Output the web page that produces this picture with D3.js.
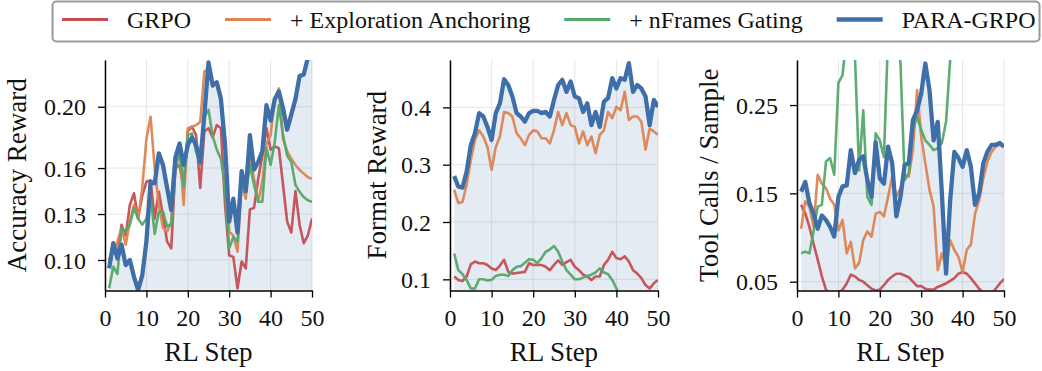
<!DOCTYPE html>
<html>
<head>
<meta charset="utf-8">
<script src="https://cdn.jsdelivr.net/npm/d3@7"></script>
<style>
  body { margin: 0; background: #fff; }
  svg { display: block; font-family: "Liberation Serif", "Times New Roman", serif; }
</style>
</head>
<body>
<svg id="chart"></svg>
<script>
// data (RL steps 1..50)
var steps = [1,2,3,4,5,6,7,8,9,10,11,12,13,14,15,16,17,18,19,20,21,22,23,24,25,
  26,27,28,29,30,31,32,33,34,35,36,37,38,39,40,41,42,43,44,45,46,47,48,49,50];

var seriesNames = ["GRPO", "+ Exploration Anchoring", "+ nFrames Gating", "PARA-GRPO"];
var seriesColors = ["#c44e52", "#dd8452", "#55a868", "#3f6fa9"];

var xTicks = [0, 10, 20, 30, 40, 50];

// Accuracy Reward
var accGRPO = [0.100,0.1076,0.103,0.123,0.116,0.136,0.1435,0.127,0.142,0.151,0.152,0.127,0.1445,0.129,0.112,0.1076,0.160,0.162,0.147,0.184,
  0.187,0.1815,0.147,0.184,0.186,0.180,0.188,0.186,0.136,0.103,0.102,0.0815,0.099,0.0946,0.133,0.134,0.153,0.168,0.186,0.172,
  0.174,0.173,0.149,0.125,0.118,0.145,0.123,0.111,0.116,0.127];
var accExplore = [0.100,0.105,0.112,0.121,0.110,0.125,0.136,0.127,0.147,0.179,0.1935,0.160,0.136,0.121,0.1185,0.125,0.164,0.173,0.136,0.186,
  0.187,0.188,0.190,0.223,0.225,0.213,0.216,0.2075,0.179,0.1185,0.116,0.1054,0.149,0.140,0.168,0.153,0.138,0.151,0.176,0.1815,
  0.205,0.212,0.179,0.171,0.166,0.162,0.1587,0.1565,0.154,0.153];
var accGating = [0.0815,0.0957,0.091,0.1207,0.1185,0.123,0.134,0.127,0.123,0.127,0.142,0.117,0.1315,0.1315,0.122,0.123,0.1576,0.172,0.148,0.1815,
  0.1826,0.1707,0.162,0.1935,0.198,0.181,0.172,0.166,0.147,0.1076,0.115,0.112,0.151,0.1445,0.162,0.149,0.138,0.138,0.173,0.162,
  0.177,0.201,0.1815,0.168,0.164,0.149,0.1445,0.141,0.139,0.138];
var accPara = [0.0946,0.111,0.101,0.110,0.0967,0.100,0.089,0.0804,0.090,0.112,0.151,0.150,0.1696,0.162,0.147,0.1326,0.167,0.176,0.162,0.175,
  0.180,0.175,0.164,0.1946,0.229,0.214,0.216,0.205,0.175,0.125,0.140,0.118,0.158,0.145,0.1815,0.159,0.164,0.171,0.201,0.191,
  0.205,0.210,0.199,0.185,0.195,0.205,0.220,0.221,0.232,0.245];
var accTicks = [0.10, 0.13, 0.16, 0.20];

// Format Reward
var fmtGRPO = [0.105,0.099,0.097,0.105,0.126,0.131,0.128,0.128,0.125,0.119,0.116,0.124,0.134,0.113,0.110,0.111,0.112,0.113,0.128,0.125,
  0.125,0.125,0.122,0.116,0.125,0.133,0.125,0.130,0.134,0.122,0.116,0.108,0.105,0.099,0.105,0.105,0.125,0.134,0.148,0.137,
  0.135,0.140,0.131,0.116,0.110,0.102,0.090,0.084,0.093,0.099];
var fmtExplore = [0.256,0.233,0.235,0.265,0.308,0.343,0.360,0.349,0.331,0.291,0.331,0.349,0.392,0.390,0.384,0.355,0.346,0.334,0.352,0.360,
  0.358,0.346,0.346,0.337,0.360,0.392,0.369,0.390,0.369,0.366,0.337,0.358,0.334,0.349,0.320,0.352,0.360,0.392,0.381,0.401,
  0.395,0.427,0.378,0.384,0.384,0.375,0.326,0.363,0.358,0.352];
var fmtGating = [0.145,0.116,0.109,0.099,0.084,0.084,0.100,0.100,0.098,0.099,0.106,0.108,0.108,0.106,0.116,0.122,0.123,0.129,0.135,0.134,
  0.128,0.137,0.148,0.152,0.158,0.148,0.131,0.116,0.108,0.100,0.100,0.103,0.106,0.108,0.112,0.119,0.112,0.109,0.099,0.084,
  0.072,0.066,0.062,0.060,0.058,0.057,0.056,0.055,0.055,0.054];
var fmtPara = [0.280,0.262,0.260,0.288,0.334,0.355,0.390,0.384,0.366,0.343,0.390,0.407,0.449,0.439,0.419,0.390,0.384,0.375,0.390,0.394,
  0.394,0.390,0.392,0.384,0.413,0.439,0.448,0.427,0.445,0.419,0.416,0.392,0.407,0.369,0.392,0.366,0.410,0.416,0.451,0.433,
  0.451,0.448,0.477,0.427,0.439,0.433,0.419,0.369,0.413,0.401];
var fmtTicks = [0.1, 0.2, 0.3, 0.4];

// Tool Calls / Sample
var toolGRPO = [0.137,0.127,0.112,0.093,0.075,0.056,0.041,0.036,0.034,0.036,0.041,0.048,0.058,0.056,0.052,0.050,0.046,0.042,0.040,0.041,
  0.046,0.052,0.056,0.059,0.059,0.057,0.055,0.050,0.045,0.045,0.042,0.041,0.041,0.044,0.046,0.048,0.051,0.054,0.059,0.061,
  0.059,0.054,0.048,0.042,0.037,0.035,0.036,0.042,0.048,0.053];
var toolExplore = [0.110,0.141,0.135,0.112,0.171,0.161,0.156,0.144,0.137,0.108,0.120,0.082,0.095,0.065,0.071,0.097,0.107,0.101,0.127,0.129,
  0.124,0.146,0.169,0.146,0.156,0.171,0.169,0.199,0.267,0.214,0.184,0.154,0.135,0.063,0.082,0.067,0.097,0.086,0.078,0.061,
  0.086,0.092,0.127,0.142,0.167,0.186,0.197,0.203,0.205,0.203];
var toolGating = [0.082,0.084,0.082,0.107,0.135,0.137,0.186,0.190,0.171,0.275,0.284,0.330,0.350,0.305,0.176,0.244,0.146,0.137,0.218,0.210,
  0.191,0.330,0.350,0.340,0.297,0.165,0.173,0.222,0.237,0.222,0.210,0.205,0.199,0.201,0.207,0.231,0.301,0.340,0.360,0.370,
  0.380,0.385,0.390,0.390,0.395,0.395,0.400,0.400,0.400,0.400];
var toolPara = [0.152,0.163,0.139,0.127,0.110,0.125,0.120,0.112,0.101,0.146,0.158,0.159,0.199,0.173,0.188,0.192,0.165,0.146,0.208,0.167,
  0.161,0.203,0.184,0.124,0.146,0.182,0.184,0.233,0.244,0.263,0.297,0.267,0.210,0.231,0.150,0.059,0.142,0.197,0.190,0.180,
  0.199,0.180,0.137,0.150,0.184,0.197,0.205,0.205,0.207,0.203];
var toolTicks = [0.05, 0.15, 0.25];

var width = 1042, height = 371;
var plotTop = 60, plotBottom = 290.5;

var panels = [
  {label: "Accuracy Reward", data: [accGRPO, accExplore, accGating, accPara], ticks: accTicks, fmt: ".2f",
   domain: [0.0801, 0.2305], left: 105, right: 312, labelX: 26},
  {label: "Format Reward", data: [fmtGRPO, fmtExplore, fmtGating, fmtPara], ticks: fmtTicks, fmt: ".1f",
   domain: [0.0805, 0.4826], left: 450, right: 658, labelX: 386},
  {label: "Tool Calls / Sample", data: [toolGRPO, toolExplore, toolGating, toolPara], ticks: toolTicks, fmt: ".2f",
   domain: [0.040, 0.301], left: 797, right: 1004, labelX: 718}
];

var svg = d3.select("#chart")
  .attr("width", width)
  .attr("height", height);

svg.append("rect").attr("width", width).attr("height", height).attr("fill", "#fff");

panels.forEach((p, pi) => {
  var x = d3.scaleLinear().domain([0, 50]).range([p.left, p.right]);
  var y = d3.scaleLinear().domain(p.domain).range([plotBottom, plotTop]);

  var g = svg.append("g");

  svg.append("clipPath").attr("id", "clip" + pi)
    .append("rect")
    .attr("x", p.left).attr("y", plotTop)
    .attr("width", p.right - p.left).attr("height", plotBottom - plotTop);

  // grid
  g.selectAll(".gx").data(xTicks).enter().append("line")
    .attr("x1", d => x(d)).attr("x2", d => x(d))
    .attr("y1", plotTop).attr("y2", plotBottom)
    .attr("stroke", "#e6e6e6").attr("stroke-width", 1);
  g.selectAll(".gy").data(p.ticks).enter().append("line")
    .attr("x1", p.left).attr("x2", p.right)
    .attr("y1", d => y(d)).attr("y2", d => y(d))
    .attr("stroke", "#e6e6e6").attr("stroke-width", 1);

  var plot = g.append("g").attr("clip-path", "url(#clip" + pi + ")");

  // shaded area under PARA-GRPO
  var area = d3.area()
    .x((d, i) => x(steps[i]))
    .y0(plotBottom)
    .y1(d => y(d));
  plot.append("path")
    .datum(p.data[3])
    .attr("d", area)
    .attr("fill", seriesColors[3])
    .attr("fill-opacity", 0.14);

  var line = d3.line()
    .x((d, i) => x(steps[i]))
    .y(d => y(d));

  p.data.forEach((s, si) => {
    plot.append("path")
      .datum(s)
      .attr("d", line)
      .attr("fill", "none")
      .attr("stroke", seriesColors[si])
      .attr("stroke-width", si === 3 ? 4.3 : 2.6)
      .attr("stroke-linejoin", "round")
      .attr("stroke-opacity", si === 3 ? 1 : 0.95);
  });

  // axes
  var yAxis = g.append("g")
    .attr("transform", "translate(" + p.left + ",0)")
    .call(d3.axisLeft(y).tickValues(p.ticks).tickFormat(d3.format(p.fmt)).tickSize(7).tickPadding(12).tickSizeOuter(0));
  var xAxis = g.append("g")
    .attr("transform", "translate(0," + plotBottom + ")")
    .call(d3.axisBottom(x).tickValues(xTicks).tickSize(7).tickPadding(11).tickSizeOuter(0));

  [xAxis, yAxis].forEach(a => {
    a.select(".domain").attr("stroke", "#000").attr("stroke-width", 1.5);
    a.selectAll(".tick line").attr("stroke", "#000").attr("stroke-width", 1.3);
    a.selectAll(".tick text")
      .attr("fill", "#111")
      .style("font-family", "'Liberation Serif', 'Times New Roman', serif")
      .style("font-size", "24px");
  });
  yAxis.selectAll(".tick text").attr("dy", "0.34em");

  svg.append("text")
    .attr("x", (p.left + p.right) / 2)
    .attr("y", 361)
    .attr("text-anchor", "middle")
    .style("font-size", "27px")
    .attr("fill", "#111")
    .text("RL Step");

  svg.append("text")
    .attr("transform", "translate(" + p.labelX + "," + ((plotTop + plotBottom) / 2) + ") rotate(-90)")
    .attr("text-anchor", "middle")
    .style("font-size", "27px")
    .attr("fill", "#111")
    .text(p.label);
});

// legend
var legend = svg.append("g");
legend.append("rect")
  .attr("x", 52.5).attr("y", 1.5)
  .attr("width", 987).attr("height", 40)
  .attr("rx", 4)
  .attr("fill", "#fff")
  .attr("stroke", "#999").attr("stroke-width", 2);

var lx = 62;
seriesNames.forEach((name, i) => {
  legend.append("line")
    .attr("x1", lx).attr("x2", lx + 46)
    .attr("y1", 19.5).attr("y2", 19.5)
    .attr("stroke", seriesColors[i])
    .attr("stroke-width", i === 3 ? 4.3 : 2.8);
  var t = legend.append("text")
    .attr("x", lx + 65)
    .attr("y", 28)
    .style("font-size", "24px")
    .attr("fill", "#111")
    .text(name);
  lx = lx + 65 + t.node().getComputedTextLength() + 34;
});
</script>
</body>
</html>
